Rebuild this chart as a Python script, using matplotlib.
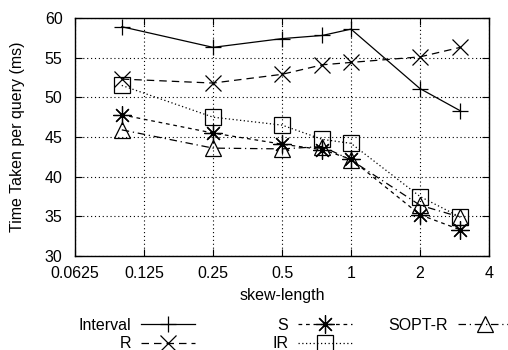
import matplotlib
matplotlib.use("Agg")
import matplotlib.pyplot as plt

# skew-length values (x) and query times in ms for each method
skew = [0.1, 0.25, 0.5, 0.75, 1, 2, 3]
interval = [58.9, 56.3, 57.4, 57.8, 58.6, 51.1, 48.3]
r_vals = [52.3, 51.8, 52.9, 54.1, 54.4, 55.1, 56.3]
s_vals = [47.8, 45.5, 44.1, 43.4, 42.2, 35.2, 33.3]
ir_vals = [51.5, 47.5, 46.5, 44.7, 44.2, 37.5, 34.9]
sopt_vals = [45.9, 43.6, 43.5, 43.8, 42.1, 36.4, 34.9]

xticks = [0.0625, 0.125, 0.25, 0.5, 1, 2, 4]
xtick_labels = ["0.0625", "0.125", "0.25", "0.5", "1", "2", "4"]
yticks = [30, 35, 40, 45, 50, 55, 60]

plt.rcParams["font.family"] = ["Liberation Sans", "DejaVu Sans"]
plt.rcParams["font.size"] = 11.5

fig = plt.figure(figsize=(5.08, 3.5), dpi=100)
ax = fig.add_axes([75 / 508, 1 - 256 / 350, 414 / 508, 238 / 350])

lw = 0.9
ms = 11
h1, = ax.plot(skew, interval, color="black", lw=lw, ls="-", marker="+", ms=ms, mew=lw, label="Interval")
h2, = ax.plot(skew, r_vals, color="black", lw=lw, ls=(0, (6, 4)), marker="x", ms=ms, mew=lw, label="R")
h3, = ax.plot(skew, s_vals, color="black", lw=lw, ls=(0, (3, 3)), marker=(8, 2, 0), ms=ms + 2, mew=lw, label="S")
h4, = ax.plot(skew, ir_vals, color="black", lw=lw, ls=(0, (1, 2)), marker="s", ms=ms, mew=lw,
              mfc="none", label="IR")
h5, = ax.plot(skew, sopt_vals, color="black", lw=lw, ls=(0, (6, 3, 1, 3)), marker="^", ms=ms, mew=lw,
              mfc="none", label="SOPT-R")

ax.set_xscale("log", base=2)
ax.set_xlim(0.0625, 4)
ax.set_ylim(30, 60)
ax.set_xticks(xticks)
ax.set_xticklabels(xtick_labels)
ax.minorticks_off()
ax.set_yticks(yticks)
ax.tick_params(direction="in", top=True, right=True, length=5, width=0.8)
ax.tick_params(axis="x", pad=7)
ax.tick_params(axis="y", pad=9)
ax.grid(True, color="black", ls=(0, (1, 2.5)), lw=0.8)
for sp in ax.spines.values():
    sp.set_linewidth(1.0)

ax.set_xlabel("skew-length", labelpad=5)
ax.set_ylabel("Time Taken per query (ms)", labelpad=14)

leg_kw = dict(frameon=False, markerfirst=False, handlelength=3.4, handletextpad=0.6,
              labelspacing=0.2, borderpad=0, borderaxespad=0, loc="upper right")
fig.legend(handles=[h1, h2], bbox_to_anchor=(195 / 508, 1 - 318 / 350), **leg_kw)
fig.legend(handles=[h3, h4], bbox_to_anchor=(352 / 508, 1 - 318 / 350), **leg_kw)
fig.legend(handles=[h5], bbox_to_anchor=(512 / 508, 1 - 318 / 350), **leg_kw)

fig.savefig("out.png", dpi=100)
